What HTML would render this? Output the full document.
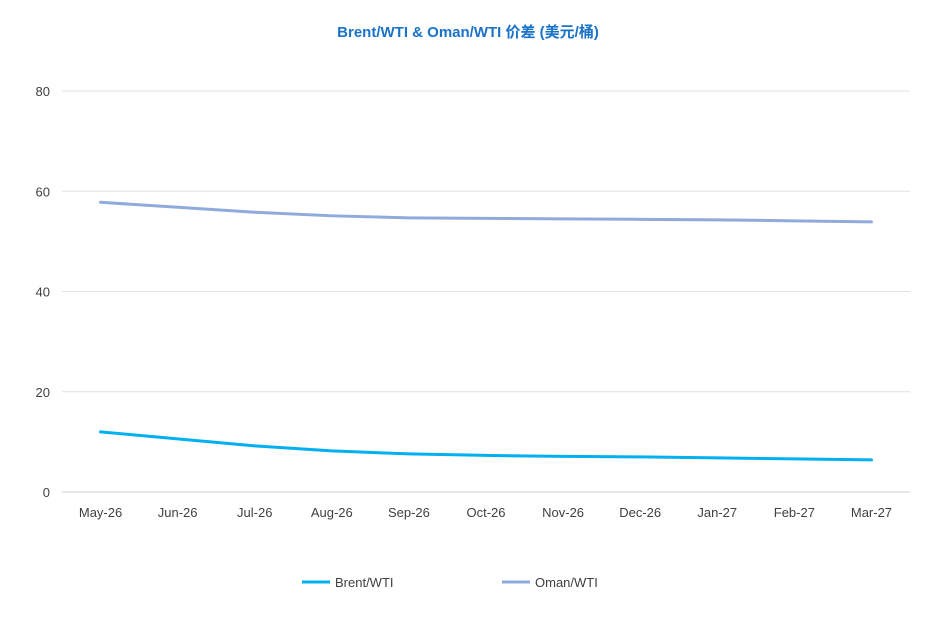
<!DOCTYPE html>
<html><head><meta charset="utf-8"><style>
body{margin:0;background:#fff;font-family:"Liberation Sans","Noto Sans CJK SC",sans-serif;}
svg text{font-family:"Liberation Sans","Noto Sans CJK SC",sans-serif;}
</style></head><body>
<svg id="chart" width="937" height="634">
<text x="468" y="37" text-anchor="middle" font-size="15" font-weight="bold" fill="#1a73c8">Brent/WTI &amp; Oman/WTI 价差 (美元/桶)</text>
<g id="grid"></g><g id="xlabels"></g><g id="lines"></g>
<g>
<line x1="302" y1="582" x2="330" y2="582" stroke="#00b0f0" stroke-width="3"/>
<text x="335" y="587" font-size="13" fill="#404040">Brent/WTI</text>
<line x1="502" y1="582" x2="530" y2="582" stroke="#8faadc" stroke-width="3"/>
<text x="535" y="587" font-size="13" fill="#404040">Oman/WTI</text>
</g>
</svg>
<script>
const categories=["May-26","Jun-26","Jul-26","Aug-26","Sep-26","Oct-26","Nov-26","Dec-26","Jan-27","Feb-27","Mar-27"];
const brent=[12.0,10.6,9.2,8.2,7.6,7.3,7.1,7.0,6.8,6.6,6.4];
const oman=[57.8,56.8,55.8,55.1,54.7,54.6,54.5,54.4,54.3,54.1,53.9];
const yTicks=[0,20,40,60,80];
const ns="http://www.w3.org/2000/svg";
const L=62,R=910,T=91,B=492;
const x=i=>L+(R-L)/categories.length*(i+0.5);
const y=v=>B-(B-T)*v/80;
function mk(tag,attrs,parent){const e=document.createElementNS(ns,tag);for(const k in attrs)e.setAttribute(k,attrs[k]);parent.appendChild(e);return e;}
const grid=document.getElementById('grid');
yTicks.forEach(t=>{
 const l=mk('line',{x1:L,x2:R,y1:y(t),y2:y(t),stroke:t===0?'#d0d0d0':'#e0e0e0','stroke-width':1},grid);
 
 
 const tx=mk('text',{x:50,y:y(t)+5,'text-anchor':'end','font-size':13,fill:'#404040'},grid);
 tx.textContent=t;
 
 
});
const xl=document.getElementById('xlabels');
categories.forEach((c,i)=>{
 const tx=mk('text',{x:x(i),y:517,'text-anchor':'middle','font-size':13,fill:'#404040'},xl);
 tx.textContent=c;
 
 
});
const lines=document.getElementById('lines');
[[brent,'#00b0f0','brent-line'],[oman,'#8faadc','oman-line']].forEach(([d,c,n])=>{
 const p=mk('polyline',{points:d.map((v,i)=>x(i)+','+y(v)).join(' '),fill:'none',stroke:c,'stroke-width':3,'stroke-linejoin':'round','stroke-linecap':'round'},lines);
 
 
});
</script>
</body></html>
